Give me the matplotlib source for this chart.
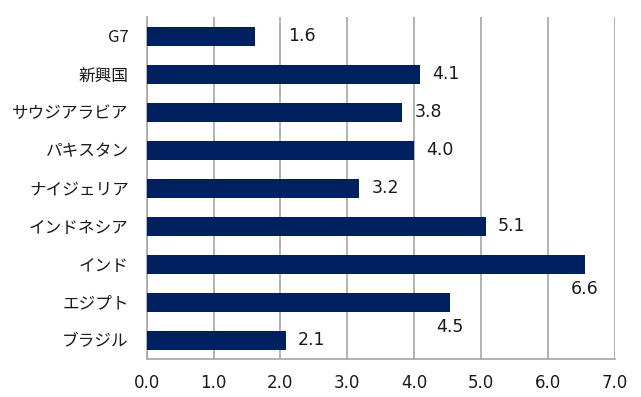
import matplotlib
matplotlib.use("Agg")
import matplotlib.pyplot as plt

plt.rcParams['font.family'] = ['Noto Sans CJK JP', 'DejaVu Sans']

categories = ["G7", "新興国", "サウジアラビア", "パキスタン", "ナイジェリア",
              "インドネシア", "インド", "エジプト", "ブラジル"]
values = [1.62, 4.09, 3.82, 4.0, 3.18, 5.07, 6.56, 4.54, 2.08]
xticks = [0, 1, 2, 3, 4, 5, 6, 7]

# label placement offsets (points): (dx, dy, ha)
label_offsets = {
    "G7": (24, 0, "left"),
    "インド": (0, -18, "center"),
    "エジプト": (0, -18, "center"),
}
default_offset = (9, 0, "left")

bar_color = "#002060"
grid_color = "#A6A6A6"

fig = plt.figure(figsize=(6.41, 3.97), dpi=100)
ax = fig.add_axes([146.7 / 641, 1 - 359 / 397, (614.5 - 146.7) / 641, (359 - 17) / 397])

ypos = list(range(len(categories)))
ax.barh(ypos, values, height=0.5, color=bar_color, zorder=3)
ax.set_ylim(len(categories) - 0.5, -0.5)
ax.set_xlim(0, 7)
ax.set_yticks(ypos)
ax.set_yticklabels(categories, fontsize=12, color='#1a1a1a')
ax.set_xticks(xticks)
ax.set_xticklabels([f"{t:.1f}" for t in xticks], fontsize=12, family='DejaVu Sans', color='#1a1a1a')
ax.tick_params(axis='y', length=0, pad=13)
ax.tick_params(axis='x', length=0, pad=11)

ax.grid(axis='x', color=grid_color, linewidth=1.2, zorder=0)
for s in ['top', 'right']:
    ax.spines[s].set_visible(False)
for s in ['left', 'bottom']:
    ax.spines[s].set_color(grid_color)
    ax.spines[s].set_linewidth(1.2)

for y, (cat, v) in enumerate(zip(categories, values)):
    dx, dy, ha = label_offsets.get(cat, default_offset)
    ax.annotate(f"{v:.1f}", xy=(v, y), xytext=(dx, dy), textcoords='offset points',
                ha=ha, va='center', fontsize=12.5, family='DejaVu Sans', color='#1a1a1a')

fig.savefig("out.png", dpi=100)
